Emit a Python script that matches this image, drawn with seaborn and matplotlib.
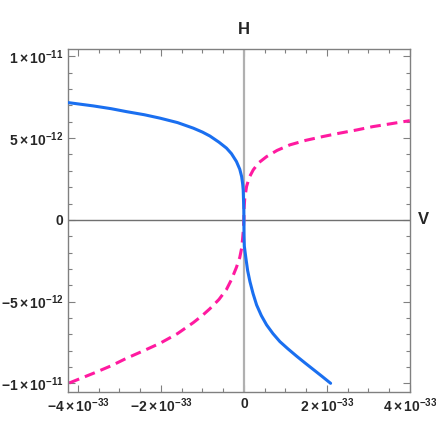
import numpy as np
import pandas as pd
import seaborn as sns
import matplotlib.pyplot as plt
from matplotlib.ticker import MultipleLocator

# values, V in units of 1e-33, H in units of 1e-12
blue_v = [-4.23, -3.63, -3.2, -2.83, -2.4, -2.02, -1.6, -1.22, -1.0, -0.82, -0.6, -0.42, -0.3,
          -0.18, -0.1, -0.055, -0.03, -0.017, -0.002, 0.0,
          0.003, 0.01, 0.048, 0.09, 0.145, 0.22, 0.306, 0.42, 0.547, 0.7, 0.867, 1.06, 1.27,
          1.47, 1.67, 1.88, 2.09]
blue_h = [7.17, 6.97, 6.80, 6.62, 6.43, 6.22, 5.95, 5.61, 5.37, 5.13, 4.75, 4.39, 4.05,
          3.57, 3.10, 2.65, 2.20, 1.83, 0.6, 0.0,
          -0.92, -1.6, -2.34, -3.1, -3.77, -4.5, -5.20, -5.85, -6.42, -6.95, -7.44, -7.88, -8.33,
          -8.74, -9.14, -9.56, -9.99]

pink_v = [-4.21, -3.63, -3.2, -2.83, -2.4, -2.02, -1.6, -1.22, -1.0, -0.82, -0.6, -0.42, -0.3,
          -0.18, -0.1, -0.055, -0.035, -0.017, 0.0,
          0.002, 0.02, 0.064, 0.13, 0.225, 0.36, 0.547, 0.8, 1.11, 1.5, 1.91, 2.3, 2.72, 3.1, 3.52, 4.0]
pink_h = [-9.97, -9.38, -8.92, -8.46, -7.98, -7.54, -6.95, -6.28, -5.84, -5.43, -4.86, -4.25, -3.65,
          -2.90, -2.30, -1.73, -1.25, -0.72, 0.0,
          0.61, 1.3, 2.04, 2.6, 3.06, 3.5, 3.87, 4.25, 4.59, 4.87, 5.10, 5.30, 5.50, 5.70, 5.87, 6.07]

x_ticks = [-4, -2, 0, 2, 4]
x_labels = [r'$-4\times10^{-33}$', r'$-2\times10^{-33}$', '0', r'$2\times10^{-33}$', r'$4\times10^{-33}$']
y_ticks = [-10, -5, 0, 5, 10]
y_labels = [r'$-1\times10^{-11}$', r'$-5\times10^{-12}$', '0', r'$5\times10^{-12}$', r'$1\times10^{-11}$']

sns.set_style('ticks')
plt.rcParams['font.family'] = ['Liberation Sans', 'DejaVu Sans']
plt.rcParams['font.weight'] = 'bold'
plt.rcParams['mathtext.fontset'] = 'custom'
plt.rcParams['mathtext.rm'] = 'Liberation Sans:bold'
plt.rcParams['mathtext.it'] = 'Liberation Sans:bold'
plt.rcParams['mathtext.bf'] = 'Liberation Sans:bold'
plt.rcParams['mathtext.default'] = 'rm'

blue = pd.DataFrame({'V': np.array(blue_v) * 1e-33, 'H': np.array(blue_h) * 1e-12})
pink = pd.DataFrame({'V': np.array(pink_v) * 1e-33, 'H': np.array(pink_h) * 1e-12})

fig = plt.figure(figsize=(4.36, 4.36), dpi=100)
ax = fig.add_axes([0.156, 0.101, 0.784, 0.787])

ax.axhline(0, color='#707070', lw=1.0, zorder=1)
ax.axvline(0, color='#b0b0b0', lw=1.6, zorder=1)

sns.lineplot(data=blue, x='V', y='H', sort=False, estimator=None, color='#1a6ff0', lw=2.2, ax=ax, zorder=3)
sns.lineplot(data=pink, x='V', y='H', sort=False, estimator=None, color='#ff1aa0', lw=2.2, ax=ax, zorder=2)
ax.lines[-1].set_dashes([3.5, 2.0])
for ln in ax.lines[-2:]:
    ln.set_solid_joinstyle('round')
    ln.set_dash_joinstyle('round')

ax.set_xlim(-4.24e-33, 4.0e-33)
ax.set_ylim(-10.52e-12, 10.46e-12)
ax.set_xticks(np.array(x_ticks) * 1e-33)
ax.set_xticklabels(x_labels)
ax.set_yticks(np.array(y_ticks) * 1e-12)
ax.set_yticklabels(y_labels)
ax.xaxis.set_minor_locator(MultipleLocator(0.5e-33))
ax.yaxis.set_minor_locator(MultipleLocator(1e-12))
ax.tick_params(which='both', direction='in', top=True, right=True, color='#808080', width=0.8, labelsize=10)
ax.tick_params(which='major', length=5)
ax.tick_params(which='minor', length=3)
ax.set_xlabel('')
ax.set_ylabel('')
for s in ax.spines.values():
    s.set_color('#808080')
    s.set_linewidth(1.0)

ax.text(0, 1.035, 'H', transform=ax.get_xaxis_transform(), ha='center', va='bottom', fontsize=12, fontweight='bold')
ax.text(1.025, 0, 'V', transform=ax.get_yaxis_transform(), ha='left', va='center', fontsize=12, fontweight='bold')

fig.savefig('out.png', dpi=100)
